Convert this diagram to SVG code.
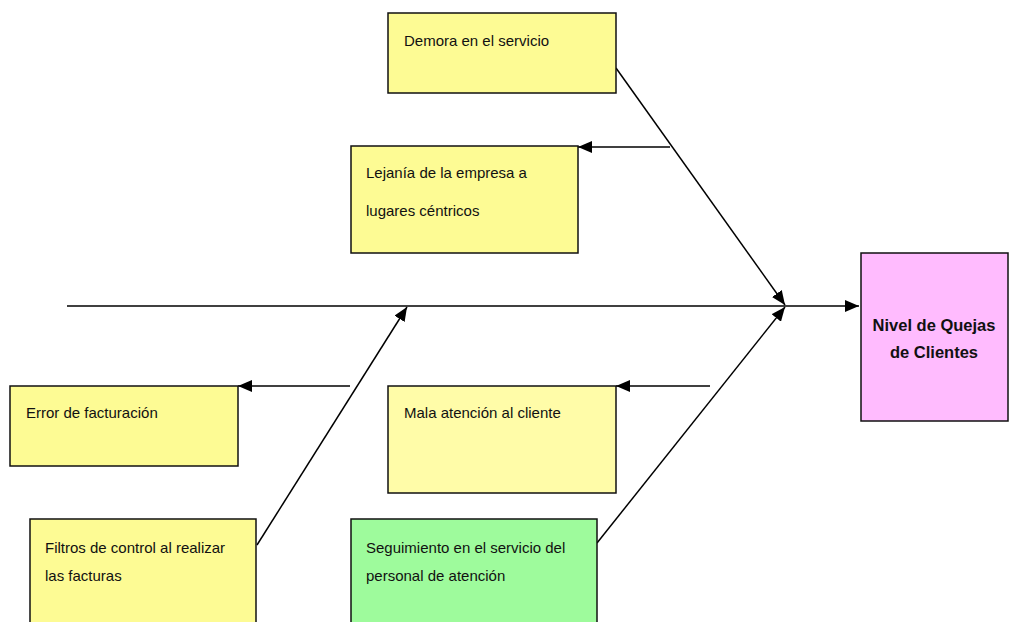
<svg xmlns="http://www.w3.org/2000/svg" width="1010" height="622" viewBox="0 0 1010 622">
<style>
.box{stroke:#111;stroke-width:1.5}
.y{fill:#FDFB94}
.t{font-family:"Liberation Sans",Arial,sans-serif;font-size:15px;fill:#111}
.b{font-weight:bold;font-size:16.5px}
.c{stroke:#000;stroke-width:1.5;fill:none}
</style>
<defs>
<marker id="ah" viewBox="0 0 14 12" refX="14" refY="6" markerWidth="14" markerHeight="12" markerUnits="userSpaceOnUse" orient="auto">
<path d="M0,0 L14,6 L0,12 Z" fill="#000"/>
</marker>
</defs>
<rect width="1010" height="622" fill="#fff"/>
<g id="connectors">
<line class="c" x1="67" y1="306" x2="859" y2="306" marker-end="url(#ah)"/>
<line class="c" x1="616" y1="68" x2="785" y2="305" marker-end="url(#ah)"/>
<line class="c" x1="670" y1="147" x2="578" y2="147" marker-end="url(#ah)"/>
<line class="c" x1="257" y1="545" x2="407" y2="307" marker-end="url(#ah)"/>
<line class="c" x1="350" y1="386" x2="238" y2="386" marker-end="url(#ah)"/>
<line class="c" x1="597" y1="543" x2="785" y2="307" marker-end="url(#ah)"/>
<line class="c" x1="710" y1="386" x2="616" y2="386" marker-end="url(#ah)"/>
</g>
<g id="demora">
<rect class="box y" x="388" y="13" width="228" height="80"/>
<text class="t" x="404" y="46">Demora en el servicio</text>
</g>
<g id="lejania">
<rect class="box y" x="351" y="146" width="227" height="107"/>
<text class="t" x="366" y="178">Lejanía de la empresa a</text>
<text class="t" x="366" y="216">lugares céntricos</text>
</g>
<g id="error">
<rect class="box y" x="10" y="386" width="228" height="80"/>
<text class="t" x="26" y="418">Error de facturación</text>
</g>
<g id="mala">
<rect class="box" fill="#FFFCA8" x="388" y="386" width="228" height="107"/>
<text class="t" x="404" y="418">Mala atención al cliente</text>
</g>
<g id="filtros">
<rect class="box y" x="30" y="519" width="226" height="110"/>
<text class="t" x="45" y="553">Filtros de control al realizar</text>
<text class="t" x="45" y="581">las facturas</text>
</g>
<g id="seguimiento">
<rect class="box" fill="#9EFB9C" x="351" y="519" width="246" height="110"/>
<text class="t" x="366" y="553">Seguimiento en el servicio del</text>
<text class="t" x="366" y="581">personal de atención</text>
</g>
<g id="nivel">
<rect class="box" fill="#FFBBFE" x="861" y="253" width="147" height="168"/>
<text class="t b" x="934" y="331" text-anchor="middle">Nivel de Quejas</text>
<text class="t b" x="934" y="358" text-anchor="middle">de Clientes</text>
</g>
</svg>
